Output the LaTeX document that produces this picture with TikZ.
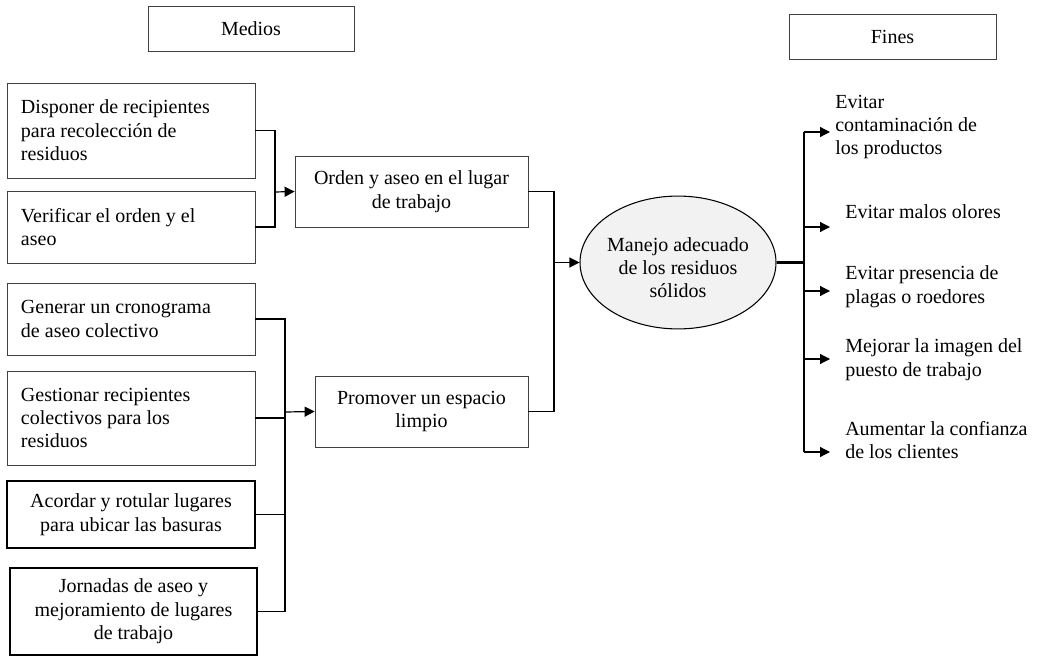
\documentclass[tikz,border=0pt]{standalone}
\usepackage{fontspec}
\setmainfont{Liberation Serif}
\usetikzlibrary{shapes.geometric,arrows.meta}
\tikzset{%
    caja/.style={draw=black!75, line width=0.6pt, inner sep=0pt,
        font=\fontsize{15}{17.6}\selectfont},
    cajaizq/.style={caja, align=flush left, text width=165pt, minimum width=186pt},
    cajagruesa/.style={caja, draw=black, line width=1.1pt, align=center},
    texto/.style={inner sep=0pt, align=flush left, anchor=west,
        font=\fontsize{15}{17.6}\selectfont},
    conn/.style={line width=0.9pt},
    flecha/.style={conn, -{Triangle[length=7.5pt,width=7.5pt]}}
}
\begin{document}
\begin{tikzpicture}[x=0.75pt,y=-0.75pt]
    \useasboundingbox (0,0) rectangle (1037,656);
    % titulos
    \node[caja, minimum width=154.5pt, minimum height=33.75pt] (medios) at (251,28.5) {Medios};
    \node[caja, minimum width=155.25pt, minimum height=33.75pt] (fines) at (892.5,36.5) {Fines};
    % medios
    \node[cajaizq, minimum height=71.25pt] (disponer) at (131,130.5) {Disponer de recipientes\\para recolección de\\residuos};
    \node[cajaizq, minimum height=54pt] (verificar) at (131,227) {Verificar el orden y el\\aseo};
    \node[cajaizq, minimum height=54pt] (generar) at (131,319) {Generar un cronograma\\de aseo colectivo};
    \node[cajaizq, minimum height=70.5pt] (gestionar) at (131,418) {Gestionar recipientes\\colectivos para los\\residuos};
    \node[cajagruesa, minimum width=186pt, minimum height=50.25pt] (acordar) at (131,514.5) {Acordar y rotular lugares\\para ubicar las basuras};
    \node[cajagruesa, minimum width=185.25pt, minimum height=65.25pt] (jornadas) at (133.5,611.5) {Jornadas de aseo y\\mejoramiento de lugares\\de trabajo};
    \node[caja, align=center, minimum width=174.75pt, minimum height=53.25pt] (orden) at (411.5,191.5) {Orden y aseo en el lugar\\de trabajo};
    \node[caja, align=center, minimum width=159.75pt, minimum height=53.25pt] (promover) at (421.5,411.5) {Promover un espacio\\limpio};
    % objetivo
    \node[ellipse, draw, line width=0.8pt, fill=black!5, inner xsep=-3pt,
        minimum width=147pt, minimum height=98.25pt,
        font=\fontsize{15}{17.6}\selectfont] (manejo) at (678,262.5)
        {\raisebox{0pt}[\dimexpr\height+11pt\relax]{\begin{tabular}{@{}c@{}}Manejo adecuado\\de los residuos\\sólidos\end{tabular}}};
    % fines
    \node[texto] (contaminacion) at (835,127) {Evitar\\contaminación de\\los productos};
    \node[texto] (olores) at (845,212) {Evitar malos olores};
    \node[texto] (plagas) at (845,286.5) {Evitar presencia de\\plagas o roedores};
    \node[texto] (imagen) at (845,359.5) {Mejorar la imagen del\\puesto de trabajo};
    \node[texto] (confianza) at (845,440) {Aumentar la confianza\\de los clientes};
    % conectores
    \coordinate (j1) at (275,192);
    \draw[conn] (disponer.east) -| (j1) |- (verificar.east);
    \draw[flecha] (j1) -- (orden.west);
    \coordinate (j2) at (285,412);
    \draw[conn] (generar.east) -| (j2) |- (jornadas.east);
    \draw[conn] (gestionar.east) -- (gestionar.east -| j2);
    \draw[conn] (acordar.east) -- (acordar.east -| j2);
    \draw[flecha] (j2) -- (promover.west);
    \coordinate (j3) at (554,262.5);
    \draw[conn] (orden.east) -| (j3) |- (promover.east);
    \draw[flecha] (j3) -- (manejo.west);
    \coordinate (salida) at (804,262.5);
    \draw[line width=1.6pt] (manejo.east) -- (salida);
    \foreach \n/\y in {1/132,2/227,3/291,4/359,5/452}
    {
    \coordinate (fin\n) at (830,\y);
    }
    \draw[conn] (salida |- fin1) -- (salida |- fin5);
    \foreach \n in {1,...,5}
    {
    \draw[flecha] (salida |- fin\n) -- (fin\n);
    }
\end{tikzpicture}
\end{document}
